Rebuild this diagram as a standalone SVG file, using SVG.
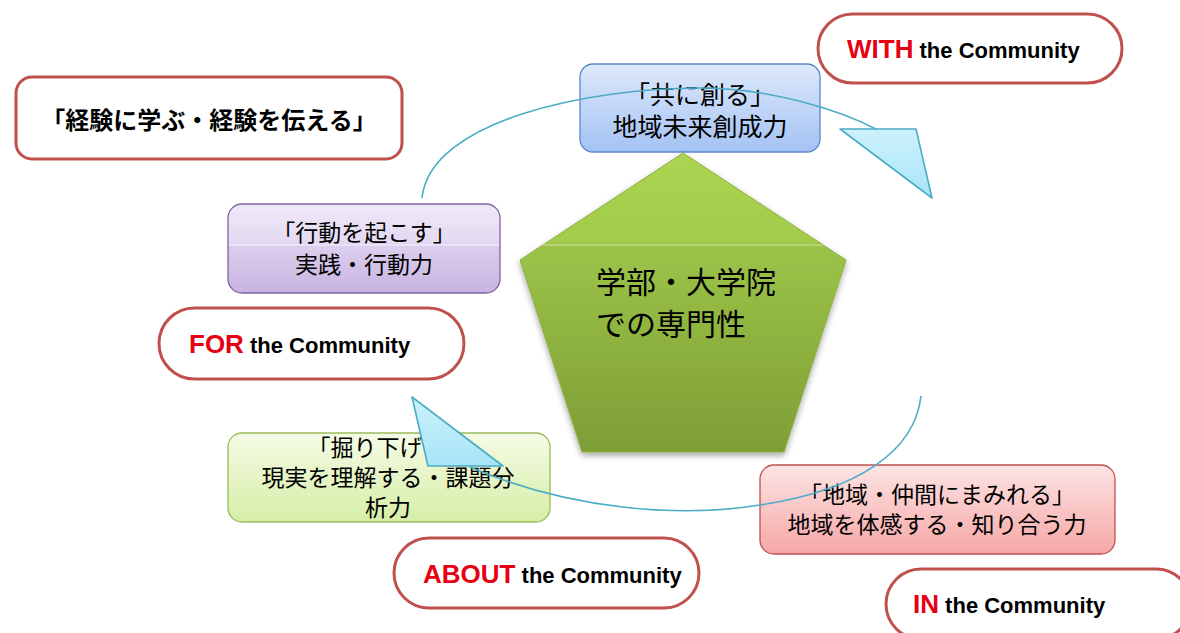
<svg xmlns="http://www.w3.org/2000/svg" width="1180" height="633" viewBox="0 0 1180 633">
<style>
.comm{fill:#fff;stroke:#c0504d;stroke-width:3}
.ct{font-family:"Liberation Sans",Arial,sans-serif;font-weight:bold;font-size:22px;fill:#000}
.ck{fill:#e60012;font-size:26px}
.jp{font-family:"Noto Sans CJK JP","Noto Sans",sans-serif;font-size:23px;fill:#000;text-anchor:middle}
.arc{fill:none;stroke:#4bacc6;stroke-width:1.6}
.tri{fill:url(#gTri);stroke:#4bacc6;stroke-width:1.6;stroke-linejoin:round}
</style>
<defs>
<linearGradient id="gBlue" x1="0" y1="0" x2="0" y2="1"><stop offset="0" stop-color="#dee9fb"/><stop offset="1" stop-color="#a4c2f4"/></linearGradient>
<linearGradient id="gPur" x1="0" y1="0" x2="0" y2="1"><stop offset="0" stop-color="#f0eaf8"/><stop offset="0.45" stop-color="#e3d8f1"/><stop offset="0.45" stop-color="#ddd0ee"/><stop offset="1" stop-color="#c7b3e1"/></linearGradient>
<linearGradient id="gGrn" x1="0" y1="0" x2="0" y2="1"><stop offset="0" stop-color="#f5fbe6"/><stop offset="1" stop-color="#d6eea6"/></linearGradient>
<linearGradient id="gPink" x1="0" y1="0" x2="0" y2="1"><stop offset="0" stop-color="#fde4e4"/><stop offset="1" stop-color="#f7a6a6"/></linearGradient>
<linearGradient id="gPent" x1="0" y1="0" x2="0" y2="1"><stop offset="0" stop-color="#acd452"/><stop offset="0.3" stop-color="#a2cb4a"/><stop offset="0.3" stop-color="#9cc448"/><stop offset="1" stop-color="#7e9e36"/></linearGradient>
<linearGradient id="gTri" x1="0" y1="0" x2="0" y2="1"><stop offset="0" stop-color="#cdf1fb"/><stop offset="1" stop-color="#a7e5f8"/></linearGradient>
<filter id="sh" x="-10%" y="-10%" width="120%" height="130%"><feDropShadow dx="0" dy="3" stdDeviation="3" flood-color="#000" flood-opacity="0.35"/></filter>
</defs>

<g id="node-learn">
<rect x="16" y="77" width="386" height="82" rx="16" class="comm"/>
<text x="209" y="128.5" class="jp" style="font-size:24px;font-weight:bold">「経験に学ぶ・経験を伝える」</text>
</g>

<g id="node-with">
<rect x="818" y="14" width="304" height="69" rx="34.5" class="comm"/>
<text x="847" y="58" class="ct"><tspan class="ck">WITH</tspan> the Community</text>
</g>

<g id="node-for">
<rect x="159" y="308" width="305" height="71" rx="35.5" class="comm"/>
<text x="189" y="353" class="ct"><tspan class="ck">FOR</tspan> the Community</text>
</g>

<g id="node-about">
<rect x="394" y="538" width="305" height="70" rx="35" class="comm"/>
<text x="423" y="583" class="ct"><tspan class="ck">ABOUT</tspan> the Community</text>
</g>

<g id="node-in">
<rect x="886" y="569" width="305" height="70" rx="35" class="comm"/>
<text x="913" y="613" class="ct"><tspan class="ck">IN</tspan> the Community</text>
</g>

<g id="node-create">
<rect x="580" y="64" width="240" height="88" rx="13" fill="url(#gBlue)" stroke="#5b87c9" stroke-width="1.3"/>
<text x="700" y="104" class="jp" style="font-size:25px">「共に創る」</text>
<text x="700" y="136" class="jp" style="font-size:25px">地域未来創成力</text>
</g>

<g id="node-action">
<rect x="228" y="204" width="272" height="89" rx="14" fill="url(#gPur)" stroke="#8064a2" stroke-width="1.3"/>
<line x1="229" y1="245" x2="499" y2="245" stroke="#fff" stroke-width="1" opacity="0.8"/>
<text x="364" y="241" class="jp">「行動を起こす」</text>
<text x="364" y="273" class="jp">実践・行動力</text>
</g>

<g id="node-dig">
<rect x="228" y="433" width="322" height="89" rx="14" fill="url(#gGrn)" stroke="#9bbb59" stroke-width="1.3"/>
<text x="388" y="456" class="jp">「掘り下げる」</text>
<text x="388" y="486" class="jp">現実を理解する・課題分</text>
<text x="388" y="516" class="jp">析力</text>
</g>

<g id="node-immerse">
<rect x="760" y="465" width="355" height="89" rx="14" fill="url(#gPink)" stroke="#c0504d" stroke-width="1.3"/>
<text x="937" y="503" class="jp">「地域・仲間にまみれる」</text>
<text x="937" y="533" class="jp">地域を体感する・知り合う力</text>
</g>

<g id="node-center">
<polygon points="683,153 846,260 784,452 582,452 520,260" fill="url(#gPent)" stroke="#8fb040" stroke-width="1" filter="url(#sh)"/>
<line x1="543" y1="245" x2="823" y2="245" stroke="#d6ecaa" stroke-width="1" opacity="0.8"/>
<text x="596" y="293" style="font-family:'Noto Sans CJK JP','Noto Sans',sans-serif;font-size:30px;fill:#000">学部・大学院</text>
<text x="596" y="335" style="font-family:'Noto Sans CJK JP','Noto Sans',sans-serif;font-size:30px;fill:#000">での専門性</text>
</g>

<g id="connectors">
<path class="arc" d="M422,198 C430,120 590,88 700,88 C770,88 840,110 878,130"/>
<polygon class="tri" points="840,129 916,129 932,198"/>
<path class="arc" d="M921,396 C915,450 860,490 760,505 C680,518 570,510 470,467"/>
<polygon class="tri" points="412,397 503,466 428,466"/>
</g>
</svg>
